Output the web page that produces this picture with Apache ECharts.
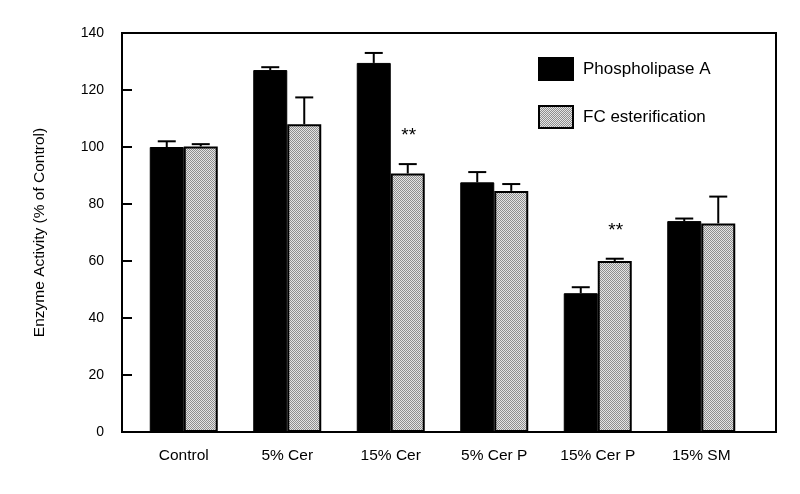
<!DOCTYPE html>
<html>
<head>
<meta charset="utf-8">
<script src="https://cdn.jsdelivr.net/npm/echarts@6/dist/echarts.min.js"></script>
<style>html,body{margin:0;padding:0;background:#fff;}#c{width:800px;height:494px;}</style>
</head>
<body>
<div id="c"></div>
<script>
var categories = ['Control', '5% Cer', '15% Cer', '5% Cer P', '15% Cer P', '15% SM'];
var plaMean = [100, 127, 129.5, 87.6, 48.7, 74];
var plaErr  = [2, 1, 3.5, 3.6, 2.1, 0.9];
var fcMean  = [100.2, 108, 90.7, 84.6, 60, 73.2];
var fcErr   = [0.8, 9.4, 3.3, 2.4, 0.8, 9.4];
var fcSig   = ['', '', '**', '', '**', ''];
var yTicks  = [0, 20, 40, 60, 80, 100, 120, 140];

var FONT = '"Liberation Sans", Arial, sans-serif';
var BAR_W = 34;

// fine gray texture for FC esterification bars
var pc = document.createElement('canvas');
pc.width = 2; pc.height = 2;
var pctx = pc.getContext('2d');
pctx.fillStyle = '#e4e4e4'; pctx.fillRect(0, 0, 2, 2);
pctx.fillStyle = '#8e8e8e'; pctx.fillRect(0, 0, 1, 1); pctx.fillRect(1, 1, 1, 1);
var grayFill = { image: pc, repeat: 'repeat' };

function errData(means, errs, sig) {
  return means.map(function (m, i) { return [i, m, errs[i], sig ? sig[i] : '']; });
}

function errRenderer(offset, sig) {
  return function (params, api) {
    var i = api.value(0), m = api.value(1), e = api.value(2);
    var s = sig ? sig[i] : '';
    var pBase = api.coord([i, m]);
    var pTop = api.coord([i, m + e]);
    var x = pBase[0] + offset;
    var children = [
      { type: 'line', shape: { x1: x, y1: pBase[1], x2: x, y2: pTop[1] }, style: { stroke: '#000', lineWidth: 2 } },
      { type: 'line', shape: { x1: x - 9, y1: pTop[1], x2: x + 9, y2: pTop[1] }, style: { stroke: '#000', lineWidth: 2 } }
    ];
    if (s) {
      children.push({ type: 'text', style: { text: s, x: x + 1, y: pTop[1] - 28, fill: '#000', font: '19px ' + FONT, align: 'center', verticalAlign: 'middle' } });
    }
    return { type: 'group', children: children };
  };
}

var chart = echarts.init(document.getElementById('c'), null, { renderer: 'canvas' });
chart.setOption({
  animation: false,
  backgroundColor: '#fff',
  textStyle: { fontFamily: FONT, color: '#000' },
  grid: [
    { left: 122, top: 33, right: 24, bottom: 62, show: true, borderColor: '#000', borderWidth: 2, backgroundColor: 'transparent' },
    { left: 132, top: 33, width: 621, bottom: 62 }
  ],
  xAxis: [
    { type: 'value', gridIndex: 0, show: false, min: 0, max: 1 },
    { type: 'category', gridIndex: 1, data: categories, axisLine: { show: false }, axisTick: { show: false },
      axisLabel: { color: '#000', fontSize: 15.5, fontFamily: FONT, margin: 16 } }
  ],
  yAxis: [
    { type: 'value', gridIndex: 0, min: yTicks[0], max: yTicks[yTicks.length - 1], interval: 20,
      axisLine: { show: true, lineStyle: { color: '#000', width: 2 } },
      axisTick: { show: true, inside: true, length: 10, lineStyle: { color: '#000', width: 2 } },
      axisLabel: { color: '#000', fontSize: 14, fontFamily: FONT, margin: 18 },
      splitLine: { show: false },
      name: 'Enzyme Activity (% of Control)', nameLocation: 'middle', nameGap: 74,
      nameTextStyle: { color: '#000', fontSize: 15.5, fontFamily: FONT } },
    { type: 'value', gridIndex: 1, min: 0, max: 140, show: false }
  ],
  legend: {
    orient: 'vertical', left: 533, top: 52, itemWidth: 34, itemHeight: 22, itemGap: 24,
    icon: 'rect',
    textStyle: { color: '#000', fontSize: 17, fontFamily: FONT, padding: [4, 0, 0, 5] },
    data: ['Phospholipase A', 'FC esterification']
  },
  series: [
    { name: 'Phospholipase A', type: 'bar', xAxisIndex: 1, yAxisIndex: 1, data: plaMean,
      barWidth: BAR_W, barGap: '0%', itemStyle: { color: '#000', borderColor: '#000', borderWidth: 1 } },
    { name: 'FC esterification', type: 'bar', xAxisIndex: 1, yAxisIndex: 1, data: fcMean,
      barWidth: BAR_W, barGap: '0%', itemStyle: { color: grayFill, borderColor: '#000', borderWidth: 2 } },
    { type: 'custom', xAxisIndex: 1, yAxisIndex: 1, data: errData(plaMean, plaErr), renderItem: errRenderer(-BAR_W / 2), z: 5, silent: true },
    { type: 'custom', xAxisIndex: 1, yAxisIndex: 1, data: errData(fcMean, fcErr, fcSig), renderItem: errRenderer(BAR_W / 2, fcSig), z: 5, silent: true }
  ]
});
</script>
</body>
</html>
